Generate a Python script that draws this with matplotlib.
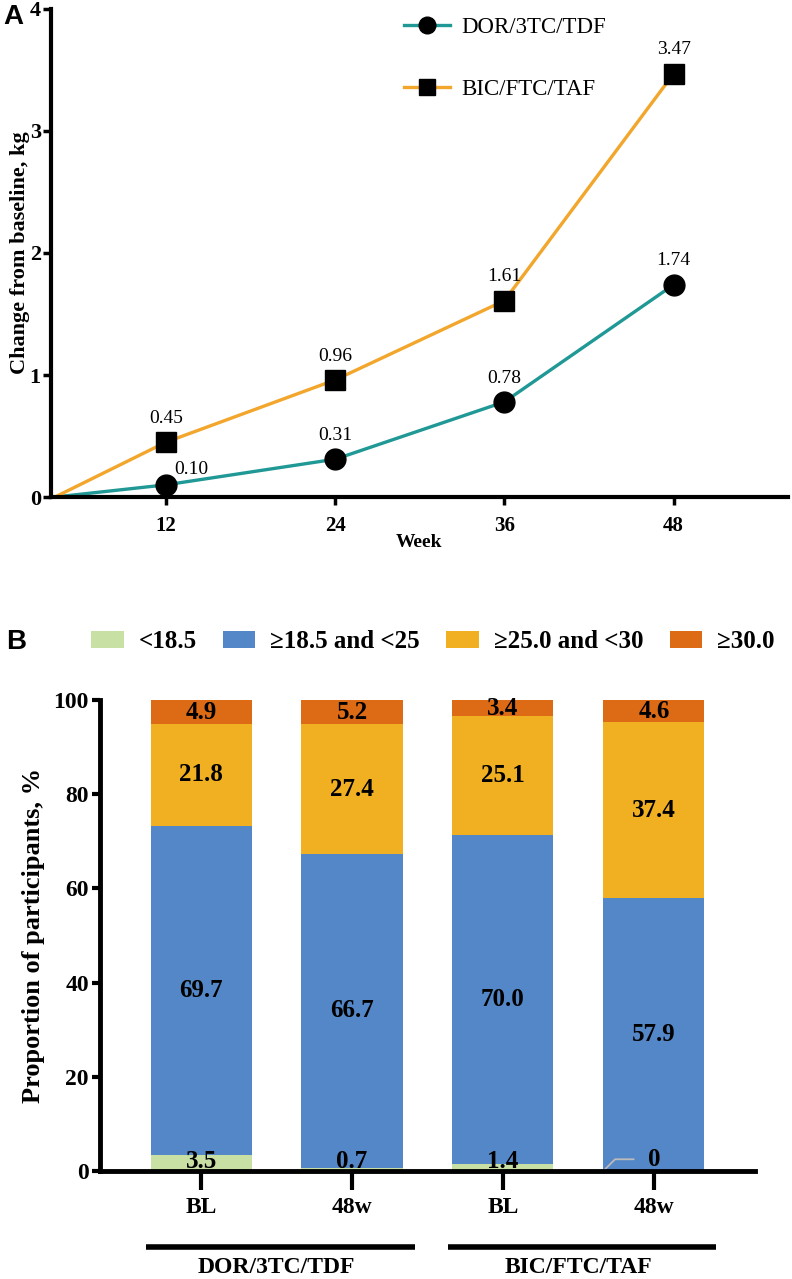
import numpy as np
import matplotlib
matplotlib.use("Agg")
import matplotlib.pyplot as plt
from matplotlib.scale import FuncScale
from matplotlib.patches import Patch
from matplotlib.lines import Line2D

# ---------------- data ----------------
weeks = [0, 12, 24, 36, 48]
dor_change = [0, 0.10, 0.31, 0.78, 1.74]
bic_change = [0, 0.45, 0.96, 1.61, 3.47]
series_names = ["DOR/3TC/TDF", "BIC/FTC/TAF"]

bar_labels = ["BL", "48w", "BL", "48w"]
groups = ["DOR/3TC/TDF", "BIC/FTC/TAF"]
bmi_cats = ["<18.5", "≥18.5 and <25", "≥25.0 and <30", "≥30.0"]
under = [3.5, 0.7, 1.4, 0]
normal = [69.7, 66.7, 70.0, 57.9]
over = [21.8, 27.4, 25.1, 37.4]
obese = [4.9, 5.2, 3.4, 4.6]

SERIF = ["Liberation Serif", "DejaVu Serif"]
teal = "#1F9896"
orange = "#F2A62C"
bar_colors = ["#C9E0A4", "#5387C7", "#F0B022", "#DD6A15"]

fig = plt.figure(figsize=(7.92, 12.79), dpi=100)

# ---------------- panel A ----------------
axA = fig.add_axes([0.0638, 0.6114, 0.931, 0.3816])
k = 111 / 169.0
def fwd(x):
    x = np.asarray(x, dtype=float)
    return np.where(x < 12, 12 - (12 - x) * k, x)
def inv(y):
    y = np.asarray(y, dtype=float)
    return np.where(y < 12, 12 - (12 - y) / k, y)
axA.set_xscale(FuncScale(axA, (fwd, inv)))

axA.plot(weeks, dor_change, color=teal, lw=2.4, zorder=2, clip_on=False)
axA.plot(weeks[1:], dor_change[1:], ls="none", marker="o", ms=15, color="black", zorder=3)
axA.plot(weeks, bic_change, color=orange, lw=2.4, zorder=2, clip_on=False)
axA.plot(weeks[1:], bic_change[1:], ls="none", marker="s", ms=14, color="black", zorder=3)

for w, v in zip(weeks[1:], bic_change[1:]):
    axA.annotate(f"{v:.2f}", (w, v), xytext=(0, 11), textcoords="offset points",
                 ha="center", va="bottom", fontsize=14, family=SERIF)
for i, (w, v) in enumerate(zip(weeks[1:], dor_change[1:])):
    off = (18, 5) if i == 0 else (0, 11)
    axA.annotate(f"{v:.2f}", (w, v), xytext=off, textcoords="offset points",
                 ha="center", va="bottom", fontsize=14, family=SERIF)

axA.set_xlim(-0.48, 56.1)
axA.set_ylim(0, 4)
axA.set_xticks([12, 24, 36, 48])
axA.set_yticks([0, 1, 2, 3, 4])
axA.set_xticklabels(["12", "24", "36", "48"], fontsize=15, fontweight="bold", family=SERIF)
axA.set_yticklabels(["0", "1", "2", "3", "4"], fontsize=16, fontweight="bold", family=SERIF)
axA.tick_params(axis="both", width=2.5, length=6, pad=1)
axA.tick_params(axis="x", pad=8)
for s in ["top", "right"]:
    axA.spines[s].set_visible(False)
for s in ["left", "bottom"]:
    axA.spines[s].set_linewidth(3)
axA.set_xlabel("Week", fontsize=14, fontweight="bold", family=SERIF, labelpad=-2)
axA.set_ylabel("Change from baseline, kg", fontsize=16, fontweight="bold", family=SERIF, labelpad=0)

handlesA = [Line2D([], [], color=teal, lw=2.4, marker="o", ms=12, mfc="black", mec="black"),
            Line2D([], [], color=orange, lw=2.4, marker="s", ms=11, mfc="black", mec="black")]
legA = axA.legend(handlesA, series_names, loc="upper left", bbox_to_anchor=(0.452, 1.025),
                  frameon=False, prop={"family": SERIF, "size": 16.5}, handlelength=2.0,
                  labelspacing=1.75, handletextpad=0.5)
fig.text(0.004, 0.987, "A", fontsize=20, fontweight="bold", family="Liberation Sans", va="center")

# ---------------- panel B ----------------
axB = fig.add_axes([0.1263, 0.0844, 0.8269, 0.3683])
x = np.arange(len(bar_labels))
width = 0.67
data = [under, normal, over, obese]
bottom = np.zeros(len(x))
for vals, col in zip(data, bar_colors):
    axB.bar(x, vals, width, bottom=bottom, color=col, zorder=2)
    for xi, b, v in zip(x, bottom, vals):
        if vals is under:
            if v == 0:
                axB.annotate("0", (xi - width / 2, 0), xytext=(xi, 2.5),
                             ha="center", va="center", fontsize=18, fontweight="bold", family=SERIF,
                             arrowprops=dict(arrowstyle="-", color="#BBBBBB", lw=1.3,
                                             connectionstyle="angle,angleA=0,angleB=45,rad=0",
                                             shrinkA=8, shrinkB=0))
            else:
                axB.text(xi, max(b + v / 2, 2.1), f"{v}", ha="center", va="center",
                         fontsize=18, fontweight="bold", family=SERIF, zorder=4)
        else:
            axB.text(xi, b + v / 2, f"{v}", ha="center", va="center",
                     fontsize=18, fontweight="bold", family=SERIF, zorder=4)
    bottom = bottom + np.array(vals)

axB.set_xlim(-0.67, 3.67)
axB.set_ylim(0, 100)
axB.set_yticks([0, 20, 40, 60, 80, 100])
axB.set_yticklabels(["0", "20", "40", "60", "80", "100"], fontsize=17, fontweight="bold", family=SERIF)
axB.set_xticks(x)
axB.set_xticklabels(bar_labels, fontsize=17, fontweight="bold", family=SERIF)
axB.tick_params(axis="both", width=3, length=6, pad=2)
axB.tick_params(axis="x", length=14, pad=5, direction="out")
for s in ["top", "right"]:
    axB.spines[s].set_visible(False)
for s in ["left", "bottom"]:
    axB.spines[s].set_linewidth(3.5)
    axB.spines[s].set_zorder(5)
axB.set_ylabel("Proportion of participants, %", fontsize=19, fontweight="bold", family=SERIF, labelpad=6)

# group lines and labels
trans = axB.get_xaxis_transform()
for gi, g in enumerate(groups):
    x0 = x[2 * gi] - width / 2 - 0.03
    x1 = x[2 * gi + 1] + width / 2 + 0.08
    axB.plot([x0, x1], [-0.162, -0.162], transform=trans, color="black", lw=4,
             clip_on=False, solid_capstyle="butt")
    axB.text((x[2 * gi] + x[2 * gi + 1]) / 2, -0.204, g, transform=trans, ha="center", va="center",
             fontsize=17, fontweight="bold", family=SERIF)

handlesB = [Patch(facecolor=c) for c in bar_colors]
fig.legend(handlesB, bmi_cats, loc="center left", bbox_to_anchor=(91 / 792, 1 - 642 / 1279), ncol=4,
           frameon=False, prop={"family": SERIF, "size": 18, "weight": "bold"},
           handlelength=1.3, handleheight=0.65, handletextpad=0.6, columnspacing=1.05,
           borderaxespad=0, borderpad=0)
fig.text(0.008, 1 - 642 / 1279, "B", fontsize=20, fontweight="bold", family="Liberation Sans", va="center")

fig.savefig("out.png", dpi=100)
